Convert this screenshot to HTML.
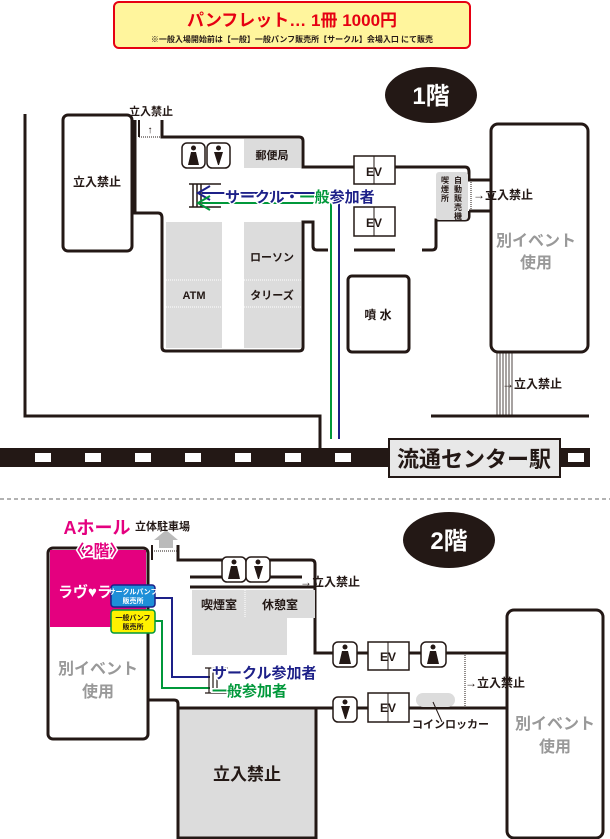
<!DOCTYPE html>
<html><head><meta charset="utf-8"><style>
html,body{margin:0;padding:0;background:#fff;}
svg{display:block;}
text{font-family:"Liberation Sans","Noto Sans CJK JP",sans-serif;font-weight:bold;}
</style></head><body>
<svg width="610" height="839" viewBox="0 0 610 839" xmlns="http://www.w3.org/2000/svg">
<!-- header -->
<rect x="114" y="2" width="356" height="46" rx="5" fill="#fff59d" stroke="#e60012" stroke-width="2"/>
<text x="292" y="26" font-size="17" fill="#e60012" text-anchor="middle">パンフレット… 1冊 1000円</text>
<text x="292" y="42" font-size="8" fill="#231815" text-anchor="middle" font-weight="normal">※一般入場開始前は【一般】一般パンフ販売所【サークル】会場入口 にて販売</text>

<!-- 1F badge -->
<ellipse cx="431" cy="95" rx="46" ry="28" fill="#231815"/>
<text x="431" y="104" font-size="24" fill="#fff" text-anchor="middle">1階</text>

<g fill="none" stroke="#231815" stroke-width="3">
<path d="M25 114 V416 H320 V448"/>
<path d="M431 416 H589"/>
<rect x="63" y="115" width="69" height="136" rx="5"/>
<path d="M135 120 V213 H158 Q162 213 162 218 V347 Q162 351 166 351 H299 Q303 351 303 347 V222 H313 V246 Q313 250 317 250 H328"/>
<path d="M162 120 V137 H299 Q303 137 303 141 V167 H354"/>
<path d="M354 250 H395"/>
<path d="M422 250 H432 Q436 250 436 246 V222"/>
<path d="M395 167 H465 Q469 167 469 172 V180 H492"/>
<path d="M469 211 V216 Q469 220 465 220 H436 V222"/>
<path d="M469 211 H492"/>
<rect x="491" y="124" width="97" height="228" rx="7"/>
<rect x="348" y="276" width="61" height="76" rx="4"/>
</g>
<path d="M139 137 H162" stroke="#231815" stroke-width="1" stroke-dasharray="1,1"/>
<path d="M139 120 V137" stroke="#231815" stroke-width="2"/>
<text x="151" y="115" font-size="11" fill="#231815" text-anchor="middle">立入禁止</text>
<text x="150" y="133" font-size="10" fill="#231815" text-anchor="middle">↑</text>
<text x="97" y="186" font-size="12" fill="#231815" text-anchor="middle">立入禁止</text>

<!-- gray blocks -->
<rect x="244" y="139" width="57" height="29" fill="#dcdcdc"/>
<text x="272" y="159" font-size="11" fill="#231815" text-anchor="middle">郵便局</text>
<rect x="166" y="222" width="56" height="126" fill="#dcdcdc"/>
<rect x="244" y="222" width="57" height="126" fill="#dcdcdc"/>
<path d="M166 280 H222 M244 280 H301 M166 307 H222 M244 307 H301" stroke="#fff" stroke-width="1" stroke-dasharray="1,1"/>
<text x="272" y="261" font-size="11" fill="#231815" text-anchor="middle">ローソン</text>
<text x="194" y="299" font-size="11" fill="#231815" text-anchor="middle">ATM</text>
<text x="272" y="299" font-size="11" fill="#231815" text-anchor="middle">タリーズ</text>

<!-- toilets 1F -->
<g stroke="#231815" stroke-width="1.5" fill="#fff">
<rect x="182" y="143" width="23" height="25" rx="5"/>
<rect x="207" y="143" width="23" height="25" rx="5"/>
</g>
<g fill="#231815">
<circle cx="193.5" cy="148" r="2.5"/><path d="M191 152 H196 L199 165 H188 Z"/>
<circle cx="218.5" cy="148" r="2.5"/><path d="M214 152 H223 L219 165 H218 Z"/>
</g>

<!-- stairs 1F -->
<g stroke="#231815" stroke-width="1.5">
<path d="M189 184 H221 M189 207 H221"/>
<path d="M193 184 V207 M197 184 V207 M201 184 V207"/>
</g>

<!-- routes 1F -->
<path d="M202 193 H339 V439" fill="none" stroke="#1d2088" stroke-width="2"/>
<path d="M202 203 H331 V439" fill="none" stroke="#00983a" stroke-width="2"/>
<path d="M210 186 L198 193 L210 200" fill="none" stroke="#1d2088" stroke-width="2"/>
<path d="M210 196 L198 203 L210 210" fill="none" stroke="#00983a" stroke-width="2"/>
<text x="225" y="202" font-size="15" stroke="#fff" stroke-width="3" paint-order="stroke" fill="#1d2088">サークル・<tspan fill="#00983a">一般</tspan><tspan fill="#1d2088">参加者</tspan></text>

<!-- EV 1F -->
<g stroke="#231815" stroke-width="1.5" fill="#fff">
<rect x="354" y="156" width="41" height="28"/><rect x="354" y="207" width="41" height="29"/>
</g>
<path d="M374 156 V184 M374 207 V236" stroke="#231815" stroke-width="1"/>
<text x="374" y="176" font-size="12" fill="#231815" text-anchor="middle">EV</text>
<text x="374" y="227" font-size="12" fill="#231815" text-anchor="middle">EV</text>

<!-- vending -->
<rect x="436" y="172" width="32" height="48" rx="3" fill="#dcdcdc"/>
<text font-size="8" fill="#231815"><tspan x="441" y="183">喫</tspan><tspan x="441" y="192">煙</tspan><tspan x="441" y="201">所</tspan></text>
<text font-size="8" fill="#231815"><tspan x="454" y="183">自</tspan><tspan x="454" y="192">動</tspan><tspan x="454" y="201">販</tspan><tspan x="454" y="210">売</tspan><tspan x="454" y="219">機</tspan></text>
<path d="M471 182 V210" stroke="#231815" stroke-width="1" stroke-dasharray="1,1"/>
<text x="473" y="199" font-size="12" fill="#231815">→立入禁止</text>

<text x="536" y="246" font-size="16" fill="#999" text-anchor="middle">別イベント</text>
<text x="536" y="268" font-size="16" fill="#999" text-anchor="middle">使用</text>
<g stroke="#231815" stroke-width="0.8"><path d="M497 352 V416 M500 352 V416 M503 352 V416 M506 352 V416 M509 352 V416 M512 352 V416"/></g>
<text x="502" y="388" font-size="12" fill="#231815">→立入禁止</text>
<text x="378" y="319" font-size="12" fill="#231815" text-anchor="middle">噴 水</text>

<!-- railway -->
<rect x="0" y="448" width="590" height="19" fill="#231815"/>
<g fill="#fff">
<rect x="35" y="453" width="16" height="9"/><rect x="85" y="453" width="16" height="9"/><rect x="135" y="453" width="16" height="9"/><rect x="185" y="453" width="16" height="9"/><rect x="235" y="453" width="16" height="9"/><rect x="285" y="453" width="16" height="9"/><rect x="335" y="453" width="16" height="9"/><rect x="568" y="453" width="16" height="9"/>
</g>
<rect x="389" y="439" width="171" height="38" fill="#e8e8e8" stroke="#231815" stroke-width="2"/>
<text x="474" y="467" font-size="22" fill="#231815" text-anchor="middle" font-weight="normal">流通センター駅</text>

<path d="M0 499 H610" stroke="#666" stroke-width="1" stroke-dasharray="4,3"/>

<!-- 2F badge -->
<ellipse cx="449" cy="540" rx="46" ry="28" fill="#231815"/>
<text x="449" y="549" font-size="24" fill="#fff" text-anchor="middle">2階</text>

<!-- 2F structure -->
<g fill="none" stroke="#231815" stroke-width="3">
<rect x="48" y="548" width="100" height="191" rx="5"/>
<path d="M178 545 V560 H311 Q315 560 315 564 V653 H333"/>
<path d="M148 700 H174 Q178 700 178 704 V838"/>
<path d="M178 708 H333"/>
<path d="M357 653 H368 M409 653 H421 M446 653 H507"/>
<path d="M357 708 H368 M409 708 H507"/>
<rect x="178" y="708" width="138" height="130" fill="#dcdcdc"/>
<rect x="507" y="610" width="96" height="228" rx="7"/>
</g>
<path d="M152 545 V560" stroke="#231815" stroke-width="2"/>
<path d="M152 551 H178" stroke="#231815" stroke-width="1" stroke-dasharray="1,1"/>
<path d="M159 548 V540 H154 L166 530 L178 540 H173 V548 Z" fill="#bbb"/>
<text x="135" y="530" font-size="11" fill="#231815" font-weight="normal">立体駐車場</text>
<rect x="50" y="550" width="96" height="77" fill="#e4007f"/>
<text x="58" y="597" font-size="15" fill="#fff">ラヴ♥ラ</text>
<text x="97" y="534" font-size="18" fill="#e4007f" stroke="#fff" stroke-width="3" paint-order="stroke" text-anchor="middle">Aホール</text>
<text x="97" y="556" font-size="16" fill="#e4007f" stroke="#fff" stroke-width="3" paint-order="stroke" text-anchor="middle">〈2階〉</text>
<rect x="111" y="585" width="44" height="22" rx="3" fill="#1e8fd8" stroke="#1d2088" stroke-width="1.5"/>
<text font-size="7" fill="#fff" text-anchor="middle"><tspan x="133" y="594">サークルパンフ</tspan><tspan x="133" y="603">販売所</tspan></text>
<rect x="111" y="610" width="44" height="23" rx="3" fill="#fff100" stroke="#00983a" stroke-width="1.5"/>
<text font-size="7" fill="#231815" text-anchor="middle"><tspan x="133" y="620">一般パンフ</tspan><tspan x="133" y="629">販売所</tspan></text>
<text x="98" y="674" font-size="16" fill="#999" text-anchor="middle">別イベント</text>
<text x="98" y="697" font-size="16" fill="#999" text-anchor="middle">使用</text>

<path d="M190 577 H302 M190 587 H315" stroke="#231815" stroke-width="3"/>
<g stroke="#231815" stroke-width="1.5" fill="#fff">
<rect x="222" y="557" width="24" height="25" rx="5"/><rect x="246" y="557" width="24" height="25" rx="5"/>
<rect x="333" y="642" width="24" height="25" rx="5"/><rect x="421" y="642" width="25" height="25" rx="5"/>
<rect x="333" y="697" width="24" height="25" rx="5"/>
<rect x="368" y="642" width="41" height="28"/><rect x="368" y="693" width="41" height="29"/>
</g>
<g fill="#231815">
<circle cx="234" cy="562" r="2.5"/><path d="M231 566 H237 L240 579 H228 Z"/>
<circle cx="258" cy="562" r="2.5"/><path d="M254 566 H263 L259 579 H258 Z"/>
<circle cx="345" cy="647" r="2.5"/><path d="M342 651 H348 L351 664 H339 Z"/>
<circle cx="433" cy="647" r="2.5"/><path d="M430 651 H436 L439 664 H427 Z"/>
<circle cx="345" cy="702" r="2.5"/><path d="M341 706 H350 L346 719 H345 Z"/>
</g>
<path d="M388 642 V670 M388 693 V722" stroke="#231815" stroke-width="1"/>
<text x="388" y="661" font-size="12" fill="#231815" text-anchor="middle">EV</text>
<text x="388" y="712" font-size="12" fill="#231815" text-anchor="middle">EV</text>
<text x="300" y="586" font-size="12" fill="#231815">→立入禁止</text>

<path d="M192 590 H315 V618 H287 V655 H192 Z" fill="#dcdcdc"/>
<path d="M245 590 V618" stroke="#fff" stroke-width="1" stroke-dasharray="1,1"/>
<text x="219" y="609" font-size="12" fill="#231815" text-anchor="middle">喫煙室</text>
<text x="280" y="609" font-size="12" fill="#231815" text-anchor="middle">休憩室</text>

<path d="M155 598 H172 V677 H210" fill="none" stroke="#1d2088" stroke-width="2"/>
<path d="M155 621 H162 V688 H210" fill="none" stroke="#00983a" stroke-width="2"/>
<g stroke="#231815" stroke-width="1.2"><path d="M205 668 H228 M205 693 H228 M209 668 V693 M213 668 V693 M217 668 V693"/></g>
<text x="212" y="678" font-size="15" fill="#1d2088" stroke="#fff" stroke-width="3" paint-order="stroke">サークル参加者</text>
<text x="212" y="696" font-size="15" fill="#00983a" stroke="#fff" stroke-width="3" paint-order="stroke">一般参加者</text>

<rect x="416" y="693" width="39" height="14" rx="7" fill="#dcdcdc"/>
<path d="M433 702 L442 722" stroke="#231815" stroke-width="1"/>
<text x="412" y="728" font-size="11" fill="#231815" font-weight="normal">コインロッカー</text>
<path d="M465 655 V706" stroke="#231815" stroke-width="1" stroke-dasharray="1,1"/>
<text x="465" y="687" font-size="12" fill="#231815">→立入禁止</text>
<text x="247" y="780" font-size="17" fill="#231815" text-anchor="middle">立入禁止</text>
<text x="555" y="729" font-size="16" fill="#999" text-anchor="middle">別イベント</text>
<text x="555" y="752" font-size="16" fill="#999" text-anchor="middle">使用</text>
</svg>
</body></html>
